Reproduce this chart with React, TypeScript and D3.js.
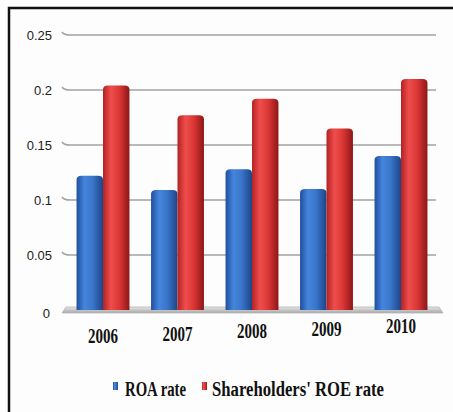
import React from "react";
import * as d3 from "d3";

const years = ["2006", "2007", "2008", "2009", "2010"];
const roaRate = [0.122, 0.109, 0.128, 0.11, 0.14];
const roeRate = [0.204, 0.177, 0.192, 0.165, 0.21];
const yTicks = [0, 0.05, 0.1, 0.15, 0.2, 0.25];
const seriesNames = ["ROA rate", "Shareholders' ROE rate"];

const W = 453;
const H = 412;

const App = () => {
  const y = d3.scaleLinear().domain([0, 0.25]).range([310, 35]);
  const x0 = d3
    .scaleBand()
    .domain(years)
    .range([65.75, 438.25])
    .paddingInner(0.29)
    .paddingOuter(0.145);
  const x1 = d3
    .scaleBand()
    .domain(seriesNames)
    .range([0, x0.bandwidth()]);

  const rows = years.map((yr, i) => ({
    year: yr,
    values: [
      { key: seriesNames[0], value: roaRate[i] },
      { key: seriesNames[1], value: roeRate[i] },
    ],
  }));

  // cylinder-ish bar with a rounded top
  const barPath = (bx, bw, top, base) => {
    const rx = 5;
    const ry = 4;
    const p = d3.path();
    p.moveTo(bx, base);
    p.lineTo(bx, top + ry);
    p.quadraticCurveTo(bx, top, bx + rx, top);
    p.lineTo(bx + bw - rx, top);
    p.quadraticCurveTo(bx + bw, top, bx + bw, top + ry);
    p.lineTo(bx + bw, base);
    p.closePath();
    return p.toString();
  };

  const fills = { [seriesNames[0]]: "url(#gBlue)", [seriesNames[1]]: "url(#gRed)" };
  const y0 = y(0);

  return (
    <svg
      width={W}
      height={H}
      style={{ position: "absolute", left: 0, top: 0, background: "#fdfdfd" }}
    >
      <defs>
        <linearGradient id="gBlue" x1="0" x2="1" y1="0" y2="0">
          <stop offset="0" stopColor="#1f4f9e" />
          <stop offset="0.3" stopColor="#4585dc" />
          <stop offset="0.6" stopColor="#3a76cb" />
          <stop offset="1" stopColor="#1d4588" />
        </linearGradient>
        <linearGradient id="gRed" x1="0" x2="1" y1="0" y2="0">
          <stop offset="0" stopColor="#b32222" />
          <stop offset="0.3" stopColor="#ef4d4d" />
          <stop offset="0.62" stopColor="#db3636" />
          <stop offset="1" stopColor="#8e1616" />
        </linearGradient>
        <linearGradient id="gFloor" x1="0" x2="0" y1="0" y2="1">
          <stop offset="0" stopColor="#e6e6e6" />
          <stop offset="1" stopColor="#a8a8a8" />
        </linearGradient>
      </defs>

      {/* frame */}
      <path d={`M9,${H} V8 H${W}`} fill="none" stroke="#111" strokeWidth={2.5} />

      {/* gridlines */}
      {yTicks.slice(1).map((t) => (
        <path
          key={t}
          d={`M62,${y(t) - 3} Q64,${y(t)} 70,${y(t)} L436,${y(t)}`}
          fill="none"
          stroke="#a3a3a3"
          strokeWidth={1.6}
        />
      ))}

      {/* floor */}
      <path
        d={`M66,${y0 - 3} L439,${y0 - 3} L443,${y0 + 3} L62,${y0 + 3} Z`}
        fill="url(#gFloor)"
        stroke="#b5b5b5"
        strokeWidth={0.8}
      />

      {/* y tick labels */}
      {yTicks.map((t) => (
        <text
          key={t}
          x={t === 0 ? 50 : 52}
          y={t === 0 ? y(t) + 3 : y(t)}
          textAnchor="end"
          dominantBaseline="central"
          fontFamily="Liberation Sans, Arial, sans-serif"
          fontSize={13}
          fill="#222"
        >
          {String(t)}
        </text>
      ))}

      {/* bars */}
      {rows.map((r) => (
        <g key={r.year} transform={`translate(${x0(r.year)},0)`}>
          {r.values.map((v) => (
            <path
              key={v.key}
              d={barPath(x1(v.key), x1.bandwidth(), y(v.value), y0)}
              fill={fills[v.key]}
            />
          ))}
        </g>
      ))}

      {/* year labels, slightly tilted baseline like the 3D original */}
      {years.map((yr, i) => (
        <text
          key={yr}
          x={x0(yr) + x0.bandwidth() / 2}
          y={343 - i * 2.5}
          textAnchor="middle"
          fontFamily="Liberation Serif, Times New Roman, serif"
          fontWeight="bold"
          fontSize={20}
          textLength={30}
          lengthAdjust="spacingAndGlyphs"
          fill="#111"
        >
          {yr}
        </text>
      ))}

      {/* legend */}
      <rect x={113} y={382} width={5} height={8} fill="url(#gBlue)" />
      <text
        x={125}
        y={396}
        fontFamily="Liberation Serif, Times New Roman, serif"
        fontWeight="bold"
        fontSize={20}
        textLength={61}
        lengthAdjust="spacingAndGlyphs"
        fill="#111"
      >
        {seriesNames[0]}
      </text>
      <rect x={202} y={382} width={5} height={8} fill="url(#gRed)" />
      <text
        x={212}
        y={396}
        fontFamily="Liberation Serif, Times New Roman, serif"
        fontWeight="bold"
        fontSize={20}
        textLength={172}
        lengthAdjust="spacingAndGlyphs"
        fill="#111"
      >
        {seriesNames[1]}
      </text>
    </svg>
  );
};

export default App;
